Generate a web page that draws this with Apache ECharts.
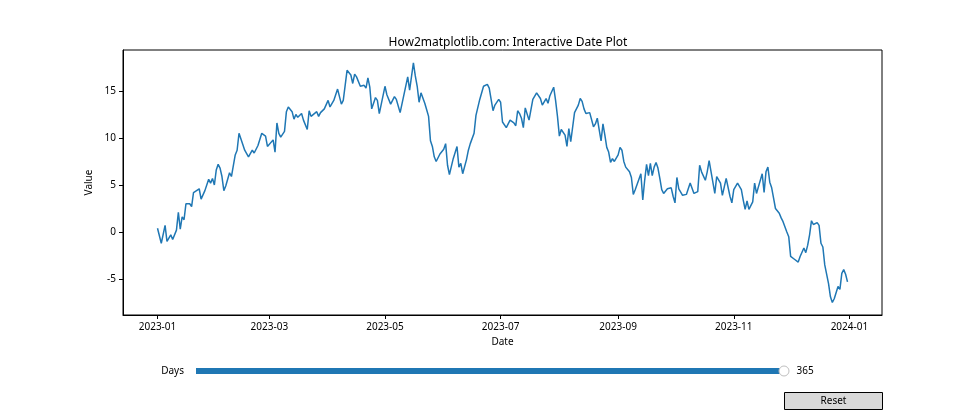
<!DOCTYPE html>
<html>
<head>
<meta charset="utf-8">
<script src="https://cdn.jsdelivr.net/npm/echarts@6/dist/echarts.min.js"></script>
<style>html,body{margin:0;padding:0;background:#fff}#c{width:980px;height:420px}</style>
</head>
<body>
<div id="c"></div>
<script>
// Day offsets from 2023-01-01 and the values
const days = [0,2,4,5,7,8,10,11,12,13,14,15,17,18,19,22,23,25,26,27,28,29,30,31,32,33,34,35,36,38,39,40,41,42,43,44,45,46,48,49,50,51,52,53,54,55,56,57,58,59,61,62,63,64,65,66,67,68,69,70,71,72,73,74,75,76,77,78,79,80,81,82,84,85,86,88,89,90,91,93,95,96,97,98,100,102,103,104,105,107,109,110,111,112,113,115,116,117,118,120,121,123,124,125,126,128,129,132,133,135,136,137,138,139,141,142,143,144,145,146,147,149,150,151,152,153,154,155,156,158,159,160,161,163,164,165,167,168,169,170,171,172,173,174,175,176,177,178,180,181,182,184,185,186,188,189,190,191,192,193,194,195,196,198,199,200,202,203,205,206,207,208,209,210,211,212,213,214,215,216,217,218,220,221,222,223,224,225,226,228,229,230,231,232,233,234,235,236,237,238,239,240,241,243,244,245,246,247,249,250,251,252,253,255,256,257,258,259,260,261,262,263,264,265,266,267,269,270,271,272,273,274,275,276,277,279,280,281,283,285,286,287,289,290,291,292,294,295,297,298,299,300,302,303,304,306,307,308,309,310,311,312,314,315,316,317,319,320,321,322,323,324,325,326,327,328,329,330,331,332,333,334,335,336,337,338,339,340,341,342,343,344,345,346,348,349,350,351,352,354,355,356,357,358,359,360,361,362,363,364];
const values = [0.4,-1.2,0.7,-1.0,-0.3,-0.8,0.2,2.1,0.3,1.6,1.3,3.0,3.0,2.7,4.2,4.6,3.5,4.4,4.4,5.6,5.2,5.7,5.0,6.6,7.2,6.8,5.9,4.4,4.9,6.3,5.9,6.1,8.2,8.7,10.5,10.6,9.3,8.7,8.0,7.9,8.7,8.4,8.6,9.2,9.4,10.5,10.7,10.2,9.1,9.0,9.8,8.5,11.6,10.5,10.1,10.2,10.7,12.8,13.3,13.2,12.8,12.0,12.5,12.2,12.4,12.6,11.9,11.8,10.9,12.9,12.3,12.4,12.8,12.3,12.7,13.1,13.3,14.0,13.3,14.0,15.2,15.2,13.6,14.0,17.2,16.7,15.8,16.8,16.5,15.5,15.6,15.3,16.4,15.4,13.1,14.3,14.0,12.6,12.7,15.5,14.6,13.6,14.0,14.4,14.1,12.7,12.9,16.5,15.1,18.0,16.6,15.5,13.8,14.8,13.7,13.0,12.3,9.7,9.1,8.0,7.5,8.3,8.2,8.8,9.4,7.1,6.1,6.0,7.8,9.1,6.9,7.3,6.2,7.7,8.7,9.4,10.5,12.4,12.4,14.1,14.2,15.5,15.4,15.7,15.3,14.1,12.9,13.5,14.1,13.8,11.7,11.1,10.9,11.9,11.6,11.3,12.9,12.6,12.1,11.1,13.2,13.3,11.9,14.1,14.2,14.8,14.2,13.5,14.2,13.7,14.5,14.6,15.4,14.0,12.3,10.2,10.9,10.7,10.3,9.1,11.0,9.6,12.7,12.6,13.5,14.2,13.9,13.1,12.6,12.7,12.6,11.2,11.5,12.1,10.9,9.7,11.5,10.3,9.0,8.5,7.4,7.8,7.5,8.2,9.0,8.7,7.5,6.9,6.4,5.8,4.0,4.5,4.4,6.2,3.4,5.5,7.2,6.0,7.3,6.0,6.9,7.4,6.8,5.7,4.5,4.1,4.6,4.6,4.7,3.8,3.1,5.8,4.6,4.5,3.9,4.0,3.9,5.2,4.1,4.3,7.1,6.4,5.5,6.4,7.6,7.7,4.1,5.9,5.2,3.9,4.8,5.7,3.8,3.1,4.5,5.2,5.0,4.5,3.4,2.4,3.3,2.4,3.2,5.2,4.1,4.8,6.2,4.2,6.4,6.9,5.3,4.7,3.6,2.5,2.7,2.0,1.5,1.1,0.9,0.0,-0.5,-2.6,-2.7,-2.9,-2.8,-3.2,-2.6,-2.6,-1.7,-2.2,-1.4,-0.3,1.2,0.8,1.0,0.7,-1.2,-1.6,-3.5,-5.5,-6.9,-7.5,-7.1,-7.1,-5.8,-6.1,-4.4,-4.0,-4.5,-5.3];

const xTickDays = [0,59,120,181,243,304,365];
const xTickLabels = ['2023-01','2023-03','2023-05','2023-07','2023-09','2023-11','2024-01'];
const yTicks = [-5,0,5,10,15];

const sliderLabel = ['Days'];
const sliderMin = 1, sliderMax = 365, sliderValue = [365];

const FONT = 'Noto Sans';
const chart = echarts.init(document.getElementById('c'), null, {renderer: 'canvas'});

const lineData = days.map((d, i) => [d, values[i]]);

chart.setOption({
  animation: false,
  backgroundColor: '#fff',
  textStyle: {fontFamily: FONT},
  title: {
    text: 'How2matplotlib.com: Interactive Date Plot',
    left: 503, top: 32, textAlign: 'center',
    textStyle: {fontSize: 12, fontWeight: 'normal', color: '#000', fontFamily: FONT}
  },
  grid: [
    {left: 123, right: 98, top: 50, bottom: 105, show: true, borderColor: '#000', borderWidth: 1, backgroundColor: 'transparent'},
    {left: 196, width: 588, top: 366, height: 10}
  ],
  xAxis: [
    {
      type: 'value', gridIndex: 0, min: -18.2, max: 382.2,
      name: 'Date', nameLocation: 'middle', nameGap: 22,
      nameTextStyle: {fontSize: 10, color: '#000', fontFamily: FONT},
      axisLine: {show: true, onZero: false, lineStyle: {color: '#000', width: 1}},
      axisTick: {show: true, length: 4, customValues: xTickDays, lineStyle: {color: '#000'}},
      axisLabel: {
        customValues: xTickDays, fontSize: 10, color: '#000', margin: 7, fontFamily: FONT,
        formatter: v => xTickLabels[xTickDays.indexOf(v)] || ''
      },
      splitLine: {show: false}
    },
    {
      type: 'value', gridIndex: 1, min: sliderMin, max: sliderMax, show: false
    }
  ],
  yAxis: [
    {
      type: 'value', gridIndex: 0, min: -8.83, max: 19.36,
      name: 'Value', nameLocation: 'middle', nameGap: 27, nameRotate: 90,
      nameTextStyle: {fontSize: 10, color: '#000', fontFamily: FONT},
      axisLine: {show: true, onZero: false, lineStyle: {color: '#000', width: 1}},
      axisTick: {show: true, length: 4, customValues: yTicks, lineStyle: {color: '#000'}},
      axisLabel: {customValues: yTicks, fontSize: 10, color: '#000', margin: 7, fontFamily: FONT},
      splitLine: {show: false}
    },
    {
      type: 'category', gridIndex: 1, data: sliderLabel,
      axisLine: {show: false}, axisTick: {show: false},
      axisLabel: {fontSize: 10, color: '#000', margin: 12, fontFamily: FONT}
    }
  ],
  series: [
    {
      type: 'line', xAxisIndex: 0, yAxisIndex: 0, data: lineData,
      showSymbol: false, symbol: 'none',
      lineStyle: {color: '#1f77b4', width: 1.5}, itemStyle: {color: '#1f77b4'}
    },
    {
      type: 'bar', xAxisIndex: 1, yAxisIndex: 1, data: sliderValue,
      barWidth: 6, itemStyle: {color: '#1f77b4'}, clip: true, silent: true
    },
    {
      type: 'scatter', xAxisIndex: 1, yAxisIndex: 1,
      data: sliderValue.map(v => [v, sliderLabel[0]]),
      symbolSize: 10, clip: false,
      itemStyle: {color: '#fff', borderColor: '#bfbfbf', borderWidth: 1, opacity: 1},
      label: {show: true, position: 'right', distance: 7, fontSize: 10, color: '#000', fontFamily: FONT,
        formatter: p => String(p.value[0])}
    }
  ],
  graphic: [
    {
      type: 'group', left: 784, top: 392,
      children: [
        {type: 'rect', shape: {x: 0, y: 0, width: 98, height: 17}, style: {fill: '#d9d9d9', stroke: '#000', lineWidth: 1}},
        {type: 'text', style: {x: 49, y: 8.5, text: 'Reset', fontSize: 10, fontFamily: FONT, fill: '#000', align: 'center', verticalAlign: 'middle'}}
      ]
    }
  ]
});
</script>
</body>
</html>
